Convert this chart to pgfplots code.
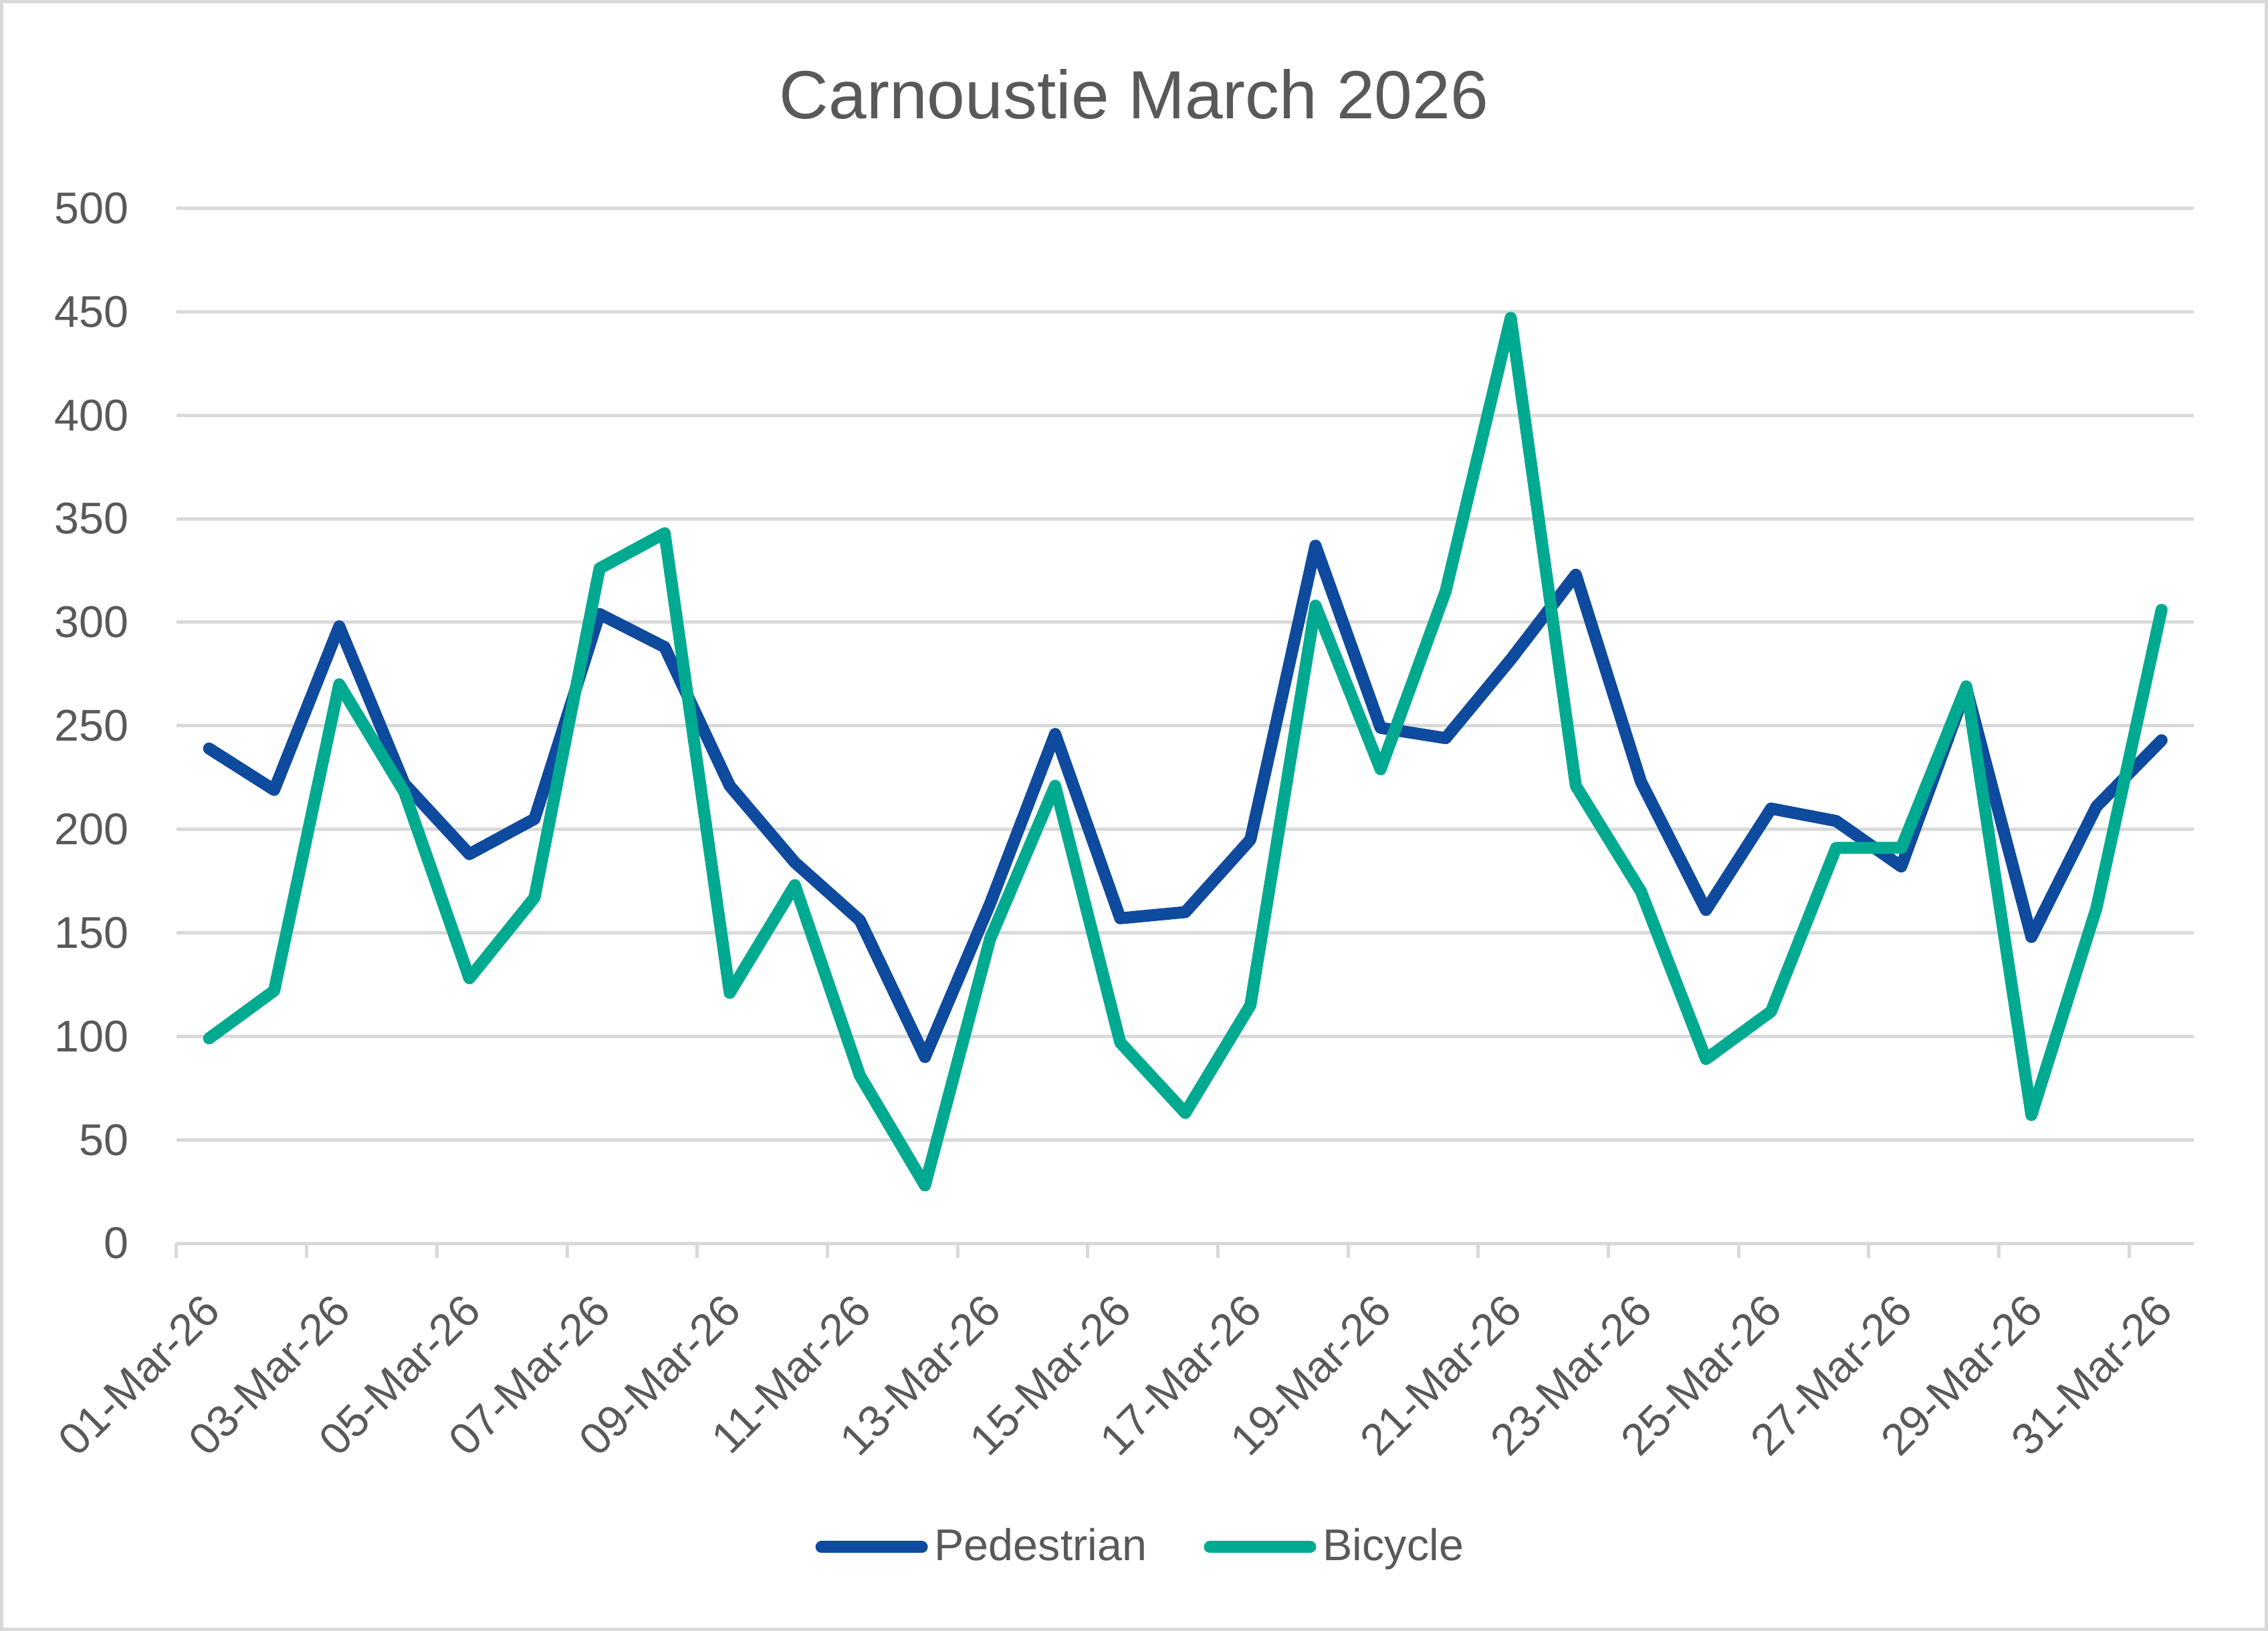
\documentclass[border=0pt]{standalone}
\usepackage{fontspec}
\setmainfont{Liberation Sans}
\usepackage{pgfplots}
\pgfplotsset{compat=1.18}
\definecolor{pedblue}{RGB}{14,74,158}
\definecolor{bikegreen}{RGB}{0,170,144}
\definecolor{gridgray}{RGB}{217,217,217}
\definecolor{textgray}{RGB}{89,89,89}
\begin{document}
\begin{tikzpicture}
  \path[use as bounding box] (0pt,0pt) rectangle (678.4pt,488pt);
  \draw[gridgray, line width=1pt] (0.5pt,0.5pt) rectangle (677.9pt,487.5pt);
  \node[anchor=base, text=textgray, font=\fontsize{20.4}{22}\selectfont]
    at (339.2pt,452.5pt) {Carnoustie March 2026};
  \begin{axis}[
    at={(52.8pt,116pt)}, anchor=south west,
    scale only axis, width=603.5pt, height=309.7pt,
    xmin=0.5, xmax=31.5, ymin=0, ymax=500,
    axis lines*=left,
    y axis line style={draw=none},
    x axis line style={draw=gridgray, line width=1pt},
    ytick={0,50,...,500},
    ymajorgrids, grid style={gridgray, line width=1pt},
    major y tick style={draw=none},
    xtick={1,3,...,31},
    xticklabels={01-Mar-26,03-Mar-26,05-Mar-26,07-Mar-26,09-Mar-26,11-Mar-26,
      13-Mar-26,15-Mar-26,17-Mar-26,19-Mar-26,21-Mar-26,23-Mar-26,25-Mar-26,
      27-Mar-26,29-Mar-26,31-Mar-26},
    major x tick style={draw=none},
    minor xtick={0.5,2.5,...,30.5},
    minor x tick style={gridgray, line width=1pt},
    minor tick length=4.3pt,
    tick align=outside,
    /pgf/number format/assume math mode=true,
    ticklabel style={text=textgray, font=\fontsize{13.3}{14}\selectfont},
    yticklabel style={anchor=east},
    yticklabel shift=6.5pt,
    xticklabel style={xshift=3.3pt, rotate=45, anchor=east},
    xticklabel shift=11pt,
    legend columns=2,
    legend style={at={(0.479,-0.2935)}, anchor=center, draw=none,
      font=\fontsize{13.3}{14}\selectfont, text=textgray,
      /tikz/every even column/.append style={column sep=15pt}},
    legend image code/.code={\draw[#1] (0pt,0pt) -- (30pt,0pt);},
  ]
    \addplot[pedblue, line width=3.6pt, line join=round, line cap=round] coordinates {
      (1,239) (2,219) (3,298) (4,222) (5,188) (6,205) (7,304) (8,288)
      (9,221) (10,184) (11,156) (12,90) (13,164) (14,246) (15,157) (16,160)
      (17,195) (18,337) (19,249) (20,244) (21,282) (22,323) (23,223) (24,161)
      (25,210) (26,204) (27,182) (28,268) (29,148) (30,211) (31,243)};
    \addlegendentry{Pedestrian}
    \addplot[bikegreen, line width=3.6pt, line join=round, line cap=round] coordinates {
      (1,99) (2,122) (3,270) (4,218) (5,128) (6,167) (7,326) (8,343)
      (9,121) (10,173) (11,81) (12,28) (13,147) (14,221) (15,97) (16,63)
      (17,115) (18,308) (19,229) (20,315) (21,447) (22,221) (23,170) (24,89)
      (25,112) (26,191) (27,191) (28,269) (29,62) (30,162) (31,306)};
    \addlegendentry{Bicycle}
  \end{axis}
\end{tikzpicture}
\end{document}
